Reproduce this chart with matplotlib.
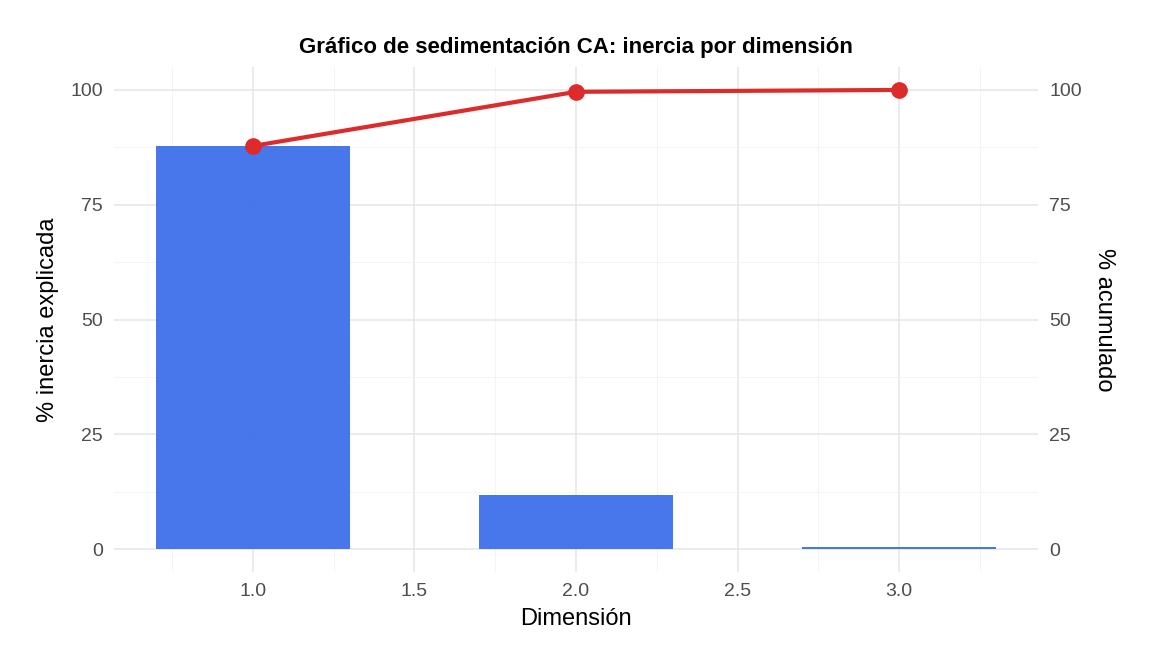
import matplotlib
matplotlib.use("Agg")
import matplotlib.pyplot as plt
import numpy as np

dims = [1, 2, 3]
inercia = [87.8, 11.8, 0.4]
acumulado = [87.8, 99.6, 100.0]
xticks = [1.0, 1.5, 2.0, 2.5, 3.0]
yticks = [0, 25, 50, 75, 100]

plt.rcParams['font.family'] = ['Liberation Sans', 'DejaVu Sans']
fig = plt.figure(figsize=(11.52, 6.72), dpi=100)
ax = fig.add_axes([0.099, 0.1488, 0.802, 0.7515])
ax.bar(dims, inercia, width=0.6, color='#3E6FEA', alpha=0.95, zorder=2)
ax.plot(dims, acumulado, color='#DD2A2A', lw=3, marker='o', ms=11, zorder=3)
ax.set_xlim(0.57, 3.43)
ax.set_ylim(-5, 105)
ax.set_xticks(xticks)
ax.set_xticklabels([f"{v:.1f}" for v in xticks])
ax.set_yticks(yticks)
ax.set_xticks([0.75, 1.25, 1.75, 2.25, 2.75, 3.25], minor=True)
ax.set_yticks([12.5, 37.5, 62.5, 87.5], minor=True)
ax.grid(which='major', color='#E5E5E5', lw=1.1, zorder=0)
ax.grid(which='minor', color='#F2F2F2', lw=0.6, zorder=0)
ax.tick_params(which='both', length=0, labelsize=14, labelcolor='#4D4D4D', pad=8)
for s in ax.spines.values():
    s.set_visible(False)
ax.set_axisbelow(True)
ax.set_xlabel('Dimensión', fontsize=17, labelpad=6)
ax.set_ylabel('% inercia explicada', fontsize=17, labelpad=8)
ax.set_title('Gráfico de sedimentación CA: inercia por dimensión', fontsize=16, fontweight='bold', pad=10)
ax2 = ax.twinx()
ax2.set_ylim(ax.get_ylim())
ax2.set_yticks(yticks)
ax2.tick_params(length=0, labelsize=14, labelcolor='#4D4D4D', pad=8)
for s in ax2.spines.values():
    s.set_visible(False)
ax2.set_ylabel('% acumulado', fontsize=17, rotation=270, labelpad=24)
fig.savefig('out.png', dpi=100)
